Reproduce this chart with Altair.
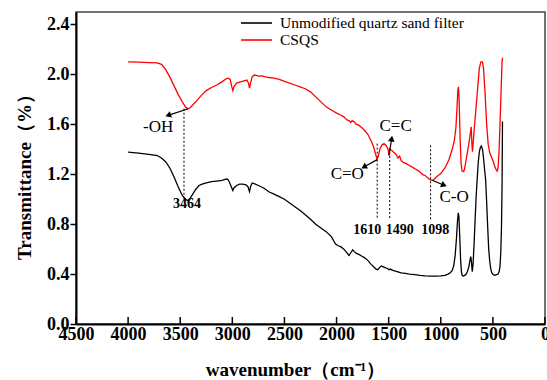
import altair as alt
import pandas as pd

SERIF = "Liberation Serif"

series_names = ["Unmodified quartz sand filter", "CSQS"]
series_colors = ["#000000", "#ff0000"]

# CSQS spectrum (wavenumber cm-1, transmittance)
csqs_wn = [4000, 3900, 3800, 3720, 3680, 3640, 3600, 3560, 3520, 3480, 3450, 3430, 3410,
           3380, 3340, 3300, 3250, 3200, 3150, 3100, 3060, 3040, 3020, 3005, 2995, 2985,
           2960, 2920, 2880, 2860, 2845, 2835, 2825, 2810, 2790, 2760, 2740, 2720, 2700,
           2650, 2600, 2550, 2500, 2450, 2400, 2350, 2300, 2250, 2200, 2150, 2100, 2050,
           2000, 1960, 1930, 1900, 1880, 1865, 1850, 1830, 1810, 1790, 1760, 1730, 1700,
           1670, 1645, 1625, 1612, 1600, 1585, 1565, 1545, 1525, 1505, 1497, 1490, 1470,
           1450, 1430, 1410, 1395, 1380, 1360, 1330, 1300, 1270, 1240, 1210, 1190, 1170,
           1150, 1130, 1110, 1090, 1070, 1040, 1000, 960, 920, 890, 870, 855, 845, 836,
           830, 824, 815, 805, 795, 780, 770, 750, 730, 718, 708, 702, 696, 685, 665, 645,
           630, 615, 600, 590, 575, 560, 545, 530, 515, 500, 485, 470, 460, 450, 440, 430,
           420, 412, 408, 405]
csqs_t = [2.10, 2.098, 2.095, 2.092, 2.08, 2.04, 1.98, 1.91, 1.84, 1.78, 1.74, 1.725, 1.73,
          1.755, 1.79, 1.83, 1.87, 1.895, 1.915, 1.94, 1.965, 1.97, 1.96, 1.90, 1.87, 1.90,
          1.93, 1.94, 1.95, 1.955, 1.93, 1.89, 1.93, 1.98, 1.995, 1.99, 1.985, 1.99, 1.985,
          1.975, 1.97, 1.96, 1.945, 1.93, 1.915, 1.90, 1.885, 1.86, 1.82, 1.78, 1.74, 1.715,
          1.69, 1.675, 1.66, 1.635, 1.63, 1.615, 1.63, 1.62, 1.60, 1.595, 1.575, 1.55, 1.52,
          1.47, 1.42, 1.36, 1.32, 1.34, 1.40, 1.435, 1.445, 1.43, 1.40, 1.35, 1.40, 1.39,
          1.375, 1.36, 1.33, 1.345, 1.31, 1.295, 1.285, 1.27, 1.255, 1.24, 1.225, 1.21, 1.195,
          1.19, 1.175, 1.16, 1.152, 1.155, 1.18, 1.205, 1.25, 1.32, 1.40, 1.47, 1.57, 1.72, 1.87,
          1.90, 1.80, 1.50, 1.28, 1.225, 1.22, 1.25, 1.35, 1.45, 1.52, 1.58, 1.45, 1.38, 1.50,
          1.70, 1.90, 2.05, 2.10, 2.10, 2.05, 1.85, 1.60, 1.44, 1.37, 1.34, 1.31, 1.27, 1.24,
          1.225, 1.25, 1.40, 1.65, 1.90, 2.10, 2.13, 2.13]

# Unmodified quartz sand filter spectrum
raw_wn = [4000, 3900, 3800, 3720, 3680, 3640, 3600, 3560, 3520, 3480, 3450, 3430, 3410,
          3380, 3350, 3320, 3290, 3250, 3200, 3150, 3100, 3060, 3045, 3030, 3005, 2995, 2985,
          2960, 2930, 2900, 2870, 2850, 2835, 2825, 2810, 2790, 2750, 2700, 2650, 2600, 2550,
          2500, 2450, 2400, 2350, 2300, 2250, 2200, 2150, 2100, 2050, 2010, 1980, 1960, 1930,
          1900, 1880, 1860, 1845, 1830, 1810, 1790, 1760, 1730, 1700, 1670, 1640, 1620, 1605,
          1590, 1570, 1555, 1530, 1510, 1497, 1485, 1460, 1420, 1380, 1340, 1300, 1250, 1200,
          1150, 1100, 1050, 1000, 960, 930, 910, 890, 875, 862, 850, 840, 832, 826, 818, 810,
          802, 795, 785, 770, 755, 740, 728, 718, 712, 706, 698, 690, 680, 670, 660, 650, 640,
          630, 620, 610, 600, 590, 580, 570, 560, 550, 540, 530, 520, 510, 495, 480, 465, 450,
          440, 432, 425, 418, 412, 408, 405]
raw_t = [1.378, 1.37, 1.36, 1.35, 1.33, 1.30, 1.25, 1.18, 1.10, 1.03, 1.00, 0.99, 1.00,
         1.04, 1.08, 1.11, 1.12, 1.13, 1.14, 1.145, 1.15, 1.16, 1.16, 1.14, 1.09, 1.07, 1.09,
         1.11, 1.12, 1.12, 1.115, 1.10, 1.06, 1.10, 1.13, 1.125, 1.11, 1.09, 1.06, 1.04, 1.02,
         1.00, 0.97, 0.94, 0.91, 0.875, 0.84, 0.80, 0.77, 0.74, 0.70, 0.64, 0.625, 0.62, 0.60,
         0.57, 0.55, 0.575, 0.595, 0.58, 0.565, 0.56, 0.545, 0.53, 0.51, 0.48, 0.455, 0.44, 0.435,
         0.45, 0.465, 0.46, 0.45, 0.445, 0.435, 0.44, 0.43, 0.42, 0.41, 0.405, 0.40, 0.395, 0.39,
         0.386, 0.384, 0.384, 0.385, 0.39, 0.40, 0.41, 0.43, 0.47, 0.55, 0.68, 0.82, 0.89, 0.86,
         0.70, 0.52, 0.42, 0.39, 0.385, 0.39, 0.40, 0.43, 0.47, 0.52, 0.54, 0.50, 0.42, 0.48,
         0.65, 0.85, 1.03, 1.17, 1.30, 1.38, 1.415, 1.425, 1.40, 1.33, 1.24, 1.16, 0.98, 0.78,
         0.60, 0.50, 0.44, 0.41, 0.395, 0.39, 0.395, 0.40, 0.42, 0.46, 0.56, 0.76, 1.10, 1.62,
         1.62]

x_ticks = [4500, 4000, 3500, 3000, 2500, 2000, 1500, 1000, 500, 0]
y_ticks = [0.0, 0.4, 0.8, 1.2, 1.6, 2.0, 2.4]

# Marked absorption bands: dotted guide and its wavenumber label
band_wn = [3464, 1610, 1490, 1098]
band_top = [1.725, 1.445, 1.41, 1.432]
band_bottom = [1.0, 0.845, 0.845, 0.832]
band_label_x = [3436, 1705, 1394, 1053]
band_label_y = [0.962, 0.757, 0.757, 0.757]

# Functional group callouts: arrow from the curve to the group name
group_names = ["-OH", "C=O", "C=C", "C-O"]
arrow_x0 = [3423, 1610, 1497, 1081]
arrow_y0 = [1.725, 1.317, 1.35, 1.152]
arrow_x1 = [3616, 1738, 1471, 969]
arrow_y1 = [1.672, 1.258, 1.486, 1.112]
arrow_angle = [251, 241, 9, 113]
group_label_x = [3712, 1897, 1433, 872]
group_label_y = [1.578, 1.205, 1.584, 1.018]

spectra = pd.concat([
    pd.DataFrame({"wn": raw_wn, "t": raw_t, "series": series_names[0]}),
    pd.DataFrame({"wn": csqs_wn, "t": csqs_t, "series": series_names[1]}),
])
bands = pd.DataFrame({"wn": band_wn, "top": band_top, "bottom": band_bottom,
                      "label": [str(v) for v in band_wn],
                      "lx": band_label_x, "ly": band_label_y})
groups = pd.DataFrame({"name": group_names, "x0": arrow_x0, "y0": arrow_y0,
                       "x1": arrow_x1, "y1": arrow_y1, "angle": arrow_angle,
                       "lx": group_label_x, "ly": group_label_y})
ticks = pd.DataFrame({"wn": x_ticks})

x_scale = alt.Scale(domain=[0, 4500], reverse=True, nice=False, zero=False)
y_scale = alt.Scale(domain=[0, 2.5], nice=False)
color_scale = alt.Scale(domain=series_names, range=series_colors)

x_axis = alt.Axis(values=x_ticks, format="d", ticks=False, labelPadding=1,
                  labelFlush=False, labelOverlap=False, grid=False,
                  title="wavenumber（cm⁻¹）", titleX=219, titleY=51,
                  titleBaseline="alphabetic", titleAnchor="middle")
y_axis = alt.Axis(values=y_ticks, format=".1f", tickSize=6, labelPadding=1,
                  labelFlush=False, labelOverlap=False, grid=False,
                  title="Transmittance（%）", titleX=-46, titleY=160,
                  titleAngle=270, titleBaseline="alphabetic", titleAlign="center")

lines = alt.Chart(spectra).mark_line(strokeWidth=1.3, interpolate="linear").encode(
    x=alt.X("wn:Q", scale=x_scale, axis=x_axis),
    y=alt.Y("t:Q", scale=y_scale, axis=y_axis),
    color=alt.Color("series:N", scale=color_scale, legend=None),
    order=alt.Order("wn:Q", sort="descending"),
)

# legend drawn in the top-right corner of the plot
legend_layers = []
for i, name in enumerate(series_names):
    row = pd.DataFrame({"series": [name]})
    legend_layers.append(
        alt.Chart(row).mark_rule(strokeWidth=1.6).encode(
            x=alt.value(165), x2=alt.value(196), y=alt.value(11 + 17 * i),
            color=alt.Color("series:N", scale=color_scale, legend=None),
        )
    )
    legend_layers.append(
        alt.Chart(row).mark_text(font=SERIF, fontSize=15.5, color="#000", align="left",
                                 baseline="middle").encode(
            x=alt.value(204), y=alt.value(11 + 17 * i), text="series:N",
        )
    )

# inward x ticks
inner_ticks = alt.Chart(ticks).mark_rule(color="#000", strokeWidth=1.5).encode(
    x=alt.X("wn:Q", scale=x_scale),
    y=alt.datum(0),
    y2=alt.value(305),
)

guides = alt.Chart(bands).mark_rule(color="#000", strokeWidth=1, strokeDash=[2, 2]).encode(
    x=alt.X("wn:Q", scale=x_scale),
    y=alt.Y("top:Q", scale=y_scale),
    y2="bottom:Q",
)
guide_labels = alt.Chart(bands).mark_text(font=SERIF, fontSize=14, fontWeight="bold",
                                          color="#000", baseline="middle").encode(
    x=alt.X("lx:Q", scale=x_scale),
    y=alt.Y("ly:Q", scale=y_scale),
    text="label:N",
)

arrow_shafts = alt.Chart(groups).mark_rule(color="#000", strokeWidth=1.2).encode(
    x=alt.X("x0:Q", scale=x_scale),
    y=alt.Y("y0:Q", scale=y_scale),
    x2="x1:Q",
    y2="y1:Q",
)
arrow_heads = alt.Chart(groups).mark_point(shape="triangle-up", filled=True, color="#000",
                                           size=45, opacity=1).encode(
    x=alt.X("x1:Q", scale=x_scale),
    y=alt.Y("y1:Q", scale=y_scale),
    angle=alt.Angle("angle:Q", scale=None),
)
group_labels = alt.Chart(groups).mark_text(font=SERIF, fontSize=17, color="#000",
                                           baseline="middle").encode(
    x=alt.X("lx:Q", scale=x_scale),
    y=alt.Y("ly:Q", scale=y_scale),
    text="name:N",
)

chart = alt.layer(
    guides, lines, inner_ticks, arrow_shafts, arrow_heads, guide_labels, group_labels,
    *legend_layers
).properties(
    width=469, height=312,
    padding={"left": 76, "top": 12, "right": 2, "bottom": 56},
    autosize="none",
    background="white",
).configure_view(
    stroke="#444", strokeWidth=1.5,
).configure_axis(
    domainColor="#000", domainWidth=2, tickColor="#000", tickWidth=1.5,
    labelFont=SERIF, labelFontSize=18, labelFontWeight="bold", labelColor="#000",
    titleFont=SERIF, titleFontSize=19, titleFontWeight="bold", titleColor="#000",
)

chart.save("out.html", embed_options={"renderer": "svg", "actions": False})
